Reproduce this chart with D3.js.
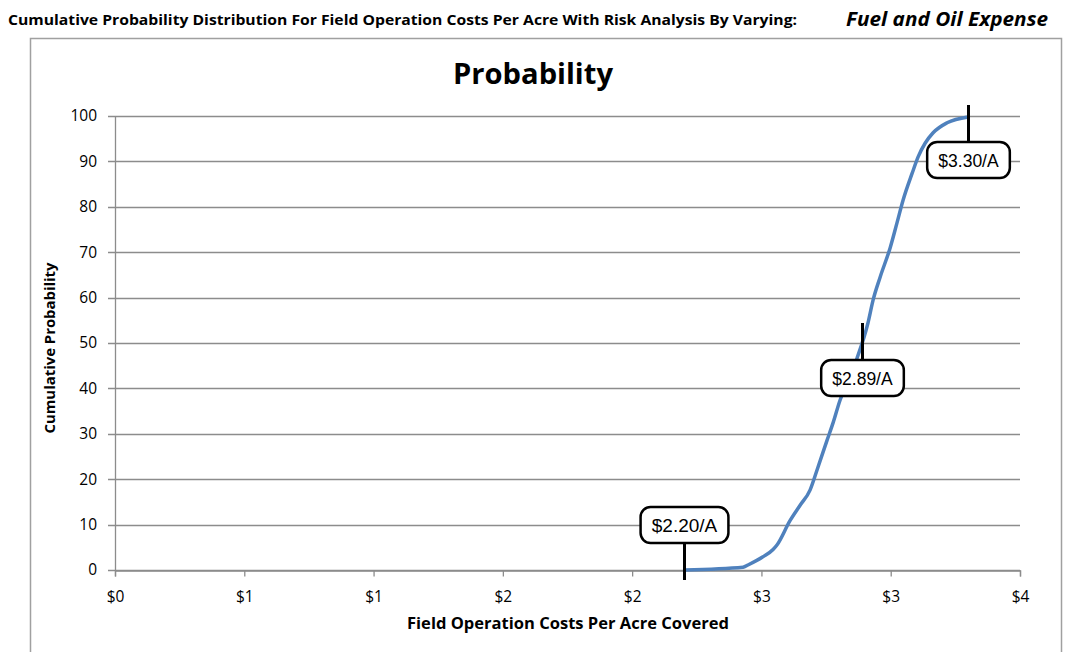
<!DOCTYPE html>
<html>
<head>
<meta charset="utf-8">
<script src="https://cdn.jsdelivr.net/npm/d3@7"></script>
<style>
  body { margin: 0; background: #fff; }
  svg { display: block; }
</style>
</head>
<body>
<script>
// Data
var costs = [2.204, 2.429, 2.448, 2.506, 2.545, 2.560, 2.610, 2.649, 2.688, 2.719, 2.754, 2.777, 2.804, 2.831, 2.870, 2.912, 2.932, 2.959, 2.998, 3.024, 3.048, 3.083, 3.106, 3.133, 3.164, 3.218, 3.299];
var probs = [0, 0.6, 1.1, 2.9, 4.5, 5.5, 10.8, 14.2, 17.6, 22.7, 28.6, 32.4, 37.4, 41.2, 46.7, 54.4, 59.5, 64.5, 71, 76.4, 81.5, 87.4, 91, 94, 96.3, 98.5, 99.8];

var xTickValues = [0, 0.5, 1, 1.5, 2, 2.5, 3, 3.5];
var xTickLabels = ["$0", "$1", "$1", "$2", "$2", "$3", "$3", "$4"];
var yTickValues = [0, 10, 20, 30, 40, 50, 60, 70, 80, 90, 100];

var markerCosts = [2.20, 2.89, 3.30];
var markerLabels = ["$2.20/A", "$2.89/A", "$3.30/A"];
var markerProbs = [0, 50, 100];

var svgWidth = 1066;
var svgHeight = 652;
var margin = {top: 116, right: 46, bottom: 82, left: 115};
var width = svgWidth - margin.left - margin.right;
var height = svgHeight - margin.top - margin.bottom;

var svg = d3.select("body").append("svg")
  .attr("width", svgWidth)
  .attr("height", svgHeight);

// header
svg.append("text")
  .attr("x", 8).attr("y", 25)
  .style("font-family", "Open Sans, sans-serif")
  .style("font-weight", "bold")
  .style("font-size", "13.5px")
  .attr("textLength", 789)
  .attr("lengthAdjust", "spacingAndGlyphs")
  .text("Cumulative Probability Distribution For Field Operation Costs Per Acre With Risk Analysis By Varying:");

svg.append("text")
  .attr("x", 846).attr("y", 26)
  .style("font-family", "Open Sans, sans-serif")
  .style("font-weight", "bold")
  .style("font-style", "italic")
  .style("font-size", "19px")
  .attr("textLength", 202)
  .attr("lengthAdjust", "spacingAndGlyphs")
  .text("Fuel and Oil Expense");

// chart frame
svg.append("rect")
  .attr("x", 30.5).attr("y", 38.5)
  .attr("width", 1031).attr("height", 640)
  .attr("fill", "none")
  .attr("stroke", "#a0a0a0")
  .attr("stroke-width", 1.5);

svg.append("text")
  .attr("x", 533).attr("y", 84)
  .attr("text-anchor", "middle")
  .style("font-family", "Open Sans, sans-serif")
  .style("font-weight", "bold")
  .style("font-size", "28px")
  .attr("textLength", 160)
  .attr("lengthAdjust", "spacingAndGlyphs")
  .text("Probability");

var chartGroup = svg.append("g")
  .attr("transform", `translate(${margin.left}, ${margin.top})`);

var xScale = d3.scaleLinear().domain([0, 3.5]).range([0, width]);
var yScale = d3.scaleLinear().domain([0, 100]).range([height, 0]);

// gridlines
chartGroup.append("g")
  .selectAll("line")
  .data(yTickValues)
  .enter()
  .append("line")
  .attr("x1", -7).attr("x2", width)
  .attr("y1", d => Math.round(yScale(d)) + 0.5)
  .attr("y2", d => Math.round(yScale(d)) + 0.5)
  .attr("stroke", "#8c8c8c")
  .attr("stroke-width", 1.3);

var leftAxis = d3.axisLeft(yScale).tickValues(yTickValues).tickSize(0).tickPadding(18);
var yAxis = chartGroup.append("g").call(leftAxis);
yAxis.select(".domain").attr("stroke", "#8c8c8c").attr("stroke-width", 1.3);
yAxis.selectAll("text")
  .style("font-family", "Open Sans, sans-serif")
  .style("font-size", "15.5px")
  .attr("fill", "#000");

var bottomAxis = d3.axisBottom(xScale)
  .tickValues(xTickValues)
  .tickSize(6)
  .tickPadding(14)
  .tickFormat((d, i) => xTickLabels[i]);
var xAxis = chartGroup.append("g")
  .attr("transform", `translate(0, ${height + 0.5})`)
  .call(bottomAxis);
xAxis.select(".domain").attr("stroke", "#8c8c8c").attr("stroke-width", 1.3);
xAxis.selectAll(".tick line").attr("stroke", "#8c8c8c").attr("stroke-width", 1.3);
xAxis.selectAll("text")
  .style("font-family", "Open Sans, sans-serif")
  .style("font-size", "15.5px")
  .attr("fill", "#000");

// axis titles
svg.append("text")
  .attr("transform", "rotate(-90)")
  .attr("x", -348).attr("y", 55)
  .attr("text-anchor", "middle")
  .style("font-family", "Open Sans, sans-serif")
  .style("font-weight", "bold")
  .style("font-size", "15px")
  .attr("textLength", 171)
  .attr("lengthAdjust", "spacingAndGlyphs")
  .text("Cumulative Probability");

svg.append("text")
  .attr("x", 568).attr("y", 629)
  .attr("text-anchor", "middle")
  .style("font-family", "Open Sans, sans-serif")
  .style("font-weight", "bold")
  .style("font-size", "15.5px")
  .attr("textLength", 322)
  .attr("lengthAdjust", "spacingAndGlyphs")
  .text("Field Operation Costs Per Acre Covered");

// curve
var curveData = costs.map((c, i) => ({cost: c, prob: probs[i]}));
var line = d3.line()
  .x(d => xScale(d.cost))
  .y(d => yScale(d.prob))
  .curve(d3.curveMonotoneX);

chartGroup.append("path")
  .datum(curveData)
  .attr("d", line)
  .attr("fill", "none")
  .attr("stroke", "#4f81bd")
  .attr("stroke-width", 3.5)
  .attr("stroke-linejoin", "round");

// markers: vertical tick + rounded label box
markerCosts.forEach(function(c, i) {
  var mx = Math.round(xScale(c)) + 0.5;
  var my = yScale(markerProbs[i]);
  var g = chartGroup.append("g");
  var label = g.append("text")
    .attr("x", mx)
    .attr("text-anchor", "middle")
    .style("font-family", "Liberation Sans, Arial, sans-serif")
    .style("font-size", i == 0 ? "19px" : "17.5px")
    .text(markerLabels[i]);
  var bb = label.node().getBBox();
  var boxW = bb.width + 22;
  var boxH = 36;
  var boxTop, y1, y2;
  if (i == 0) {
    boxTop = my - 63;
    y1 = boxTop + boxH; y2 = my + 10;
  } else if (i == 1) {
    boxTop = my + 17;
    y1 = my - 20; y2 = boxTop;
  } else {
    boxTop = my + 26;
    y1 = my - 11; y2 = boxTop;
  }
  g.insert("line", "text")
    .attr("x1", mx).attr("x2", mx)
    .attr("y1", y1).attr("y2", y2)
    .attr("stroke", "#000").attr("stroke-width", 3);
  g.insert("rect", "text")
    .attr("x", mx - boxW / 2)
    .attr("y", boxTop)
    .attr("width", boxW)
    .attr("height", boxH)
    .attr("rx", 10).attr("ry", 10)
    .attr("fill", "#fff")
    .attr("stroke", "#000")
    .attr("stroke-width", 2.5);
  label.attr("y", boxTop + boxH / 2 + 6.5);
});
</script>
</body>
</html>
